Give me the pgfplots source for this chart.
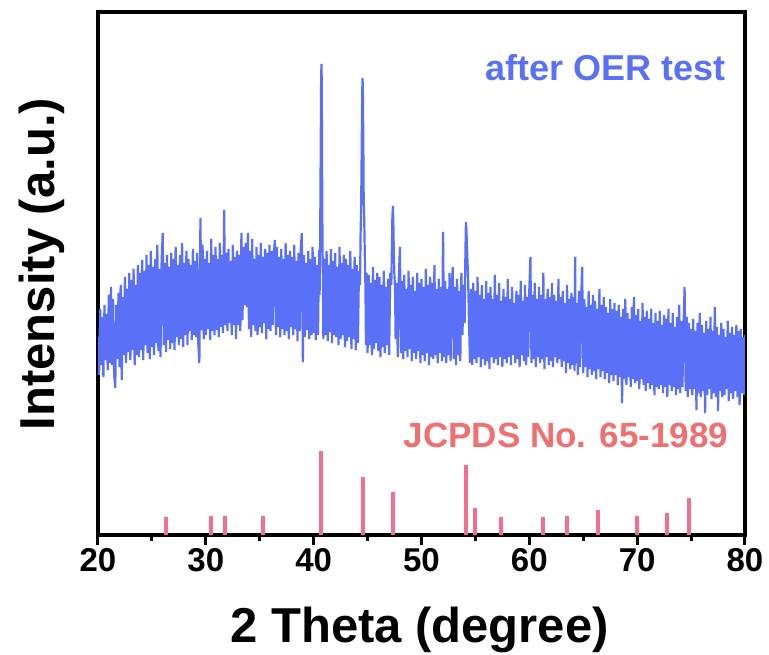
\documentclass[border=0pt]{standalone}
\usepackage{fontspec}
\setmainfont{Liberation Sans}
\usepackage{pgfplots}
\pgfplotsset{compat=1.18}
\definecolor{xrdblue}{RGB}{90,112,246}
\definecolor{stickpink}{RGB}{242,112,142}
\definecolor{refred}{RGB}{240,112,112}
\begin{document}
\begin{tikzpicture}
\begin{axis}[
  name=ax,
  scale only axis,
  width=647pt, height=523pt,
  xmin=20, xmax=80, ymin=0, ymax=523,
  xtick={20,30,...,80},
  minor x tick num=1,
  ytick=\empty,
  xtick pos=left,
  tick align=outside,
  major tick length=10pt,
  minor tick length=6pt,
  every tick/.style={black, line width=3pt},
  axis line style={black, line width=3.5pt},
  /pgf/number format/assume math mode=true,
  ticklabel style={font=\bfseries\fontsize{33}{36}\selectfont},
  label style={font=\bfseries\fontsize{49}{54}\selectfont},
  xlabel={2 Theta (degree)},
  ylabel={Intensity (a.u.)},
  xlabel style={at={(axis description cs:0.497,-0.1377)}, anchor=north, inner sep=0pt},
  ylabel style={at={(axis description cs:-0.051,0.518)}, anchor=south, inner sep=0pt},
]
\addplot[xrdblue, line width=2.2pt, line join=bevel] coordinates {
(20.0,198) (20.1,160) (20.2,226) (20.3,170) (20.4,218) (20.5,158) (20.6,230) (20.7,175) (20.8,221) (20.9,165)
(21.0,240) (21.1,172) (21.2,248) (21.3,170) (21.4,236) (21.5,160) (21.6,147) (21.7,230) (21.8,176) (21.9,242)
(22.0,168) (22.1,250) (22.2,155) (22.3,238) (22.4,180) (22.5,258) (22.6,172) (22.7,246) (22.8,183) (22.9,262)
(23.0,175) (23.1,255) (23.2,185) (23.3,266) (23.4,170) (23.5,250) (23.6,180) (23.7,270) (23.8,178) (23.9,262)
(24.0,185) (24.1,275) (24.2,175) (24.3,264) (24.4,190) (24.5,280) (24.6,182) (24.7,270) (24.8,176) (24.9,284)
(25.0,188) (25.1,268) (25.2,180) (25.3,276) (25.4,192) (25.5,290) (25.6,184) (25.7,266) (25.8,178) (25.9,274)
(26.0,302) (26.1,190) (26.2,272) (26.3,183) (26.4,280) (26.5,195) (26.6,268) (26.7,186) (26.8,282) (26.9,192)
(27.0,276) (27.1,185) (27.2,288) (27.3,198) (27.4,270) (27.5,190) (27.6,280) (27.7,196) (27.8,292) (27.9,188)
(28.0,272) (28.1,200) (28.2,284) (28.3,190) (28.4,276) (28.5,204) (28.6,270) (28.7,195) (28.8,286) (28.9,200)
(29.0,274) (29.1,198) (29.2,282) (29.3,192) (29.4,172) (29.5,317) (29.6,205) (29.7,290) (29.8,196) (29.9,276)
(30.0,200) (30.1,284) (30.2,206) (30.3,272) (30.4,195) (30.5,296) (30.6,204) (30.7,280) (30.8,200) (30.9,288)
(31.0,205) (31.1,276) (31.2,198) (31.3,292) (31.4,208) (31.5,280) (31.6,202) (31.7,325) (31.8,210) (31.9,282)
(32.0,204) (32.1,286) (32.2,212) (32.3,274) (32.4,200) (32.5,290) (32.6,210) (32.7,278) (32.8,196) (32.9,284)
(33.0,210) (33.1,280) (33.2,204) (33.3,302) (33.4,215) (33.5,288) (33.6,230) (33.7,292) (33.8,228) (33.9,302)
(34.0,206) (34.1,284) (34.2,198) (34.3,296) (34.4,210) (34.5,276) (34.6,204) (34.7,288) (34.8,200) (34.9,280)
(35.0,208) (35.1,292) (35.2,202) (35.3,278) (35.4,212) (35.5,286) (35.6,196) (35.7,282) (35.8,206) (35.9,290)
(36.0,204) (36.1,284) (36.2,210) (36.3,280) (36.4,295) (36.5,200) (36.6,288) (36.7,208) (36.8,278) (36.9,198)
(37.0,286) (37.1,206) (37.2,276) (37.3,200) (37.4,292) (37.5,204) (37.6,280) (37.7,196) (37.8,284) (37.9,208)
(38.0,278) (38.1,200) (38.2,290) (38.3,206) (38.4,274) (38.5,194) (38.6,282) (38.7,204) (38.8,286) (38.9,302)
(39.0,173) (39.1,280) (39.2,198) (39.3,272) (39.4,205) (39.5,284) (39.6,196) (39.7,276) (39.8,200) (39.9,288)
(40.0,202) (40.1,278) (40.2,195) (40.3,270) (40.4,200) (40.5,285) (40.55,240) (40.6,290) (40.65,380) (40.69,450)
(40.72,471) (40.75,455) (40.78,370) (40.82,290) (40.86,255) (40.9,196)
(41.0,276) (41.1,200) (41.2,284) (41.3,194) (41.4,270) (41.5,203) (41.6,286) (41.7,192) (41.8,274) (41.9,200)
(42.0,282) (42.1,198) (42.2,268) (42.3,190) (42.4,288) (42.5,196) (42.6,272) (42.7,200) (42.8,280) (42.9,188)
(43.0,276) (43.1,194) (43.2,270) (43.3,198) (43.4,284) (43.5,186) (43.6,266) (43.7,196) (43.8,278) (43.9,185)
(44.0,270) (44.1,192) (44.2,264) (44.3,250) (44.35,300) (44.4,325) (44.45,380) (44.5,440) (44.53,457) (44.56,448)
(44.6,400) (44.64,335) (44.68,320) (44.72,295) (44.76,270) (44.8,250) (44.85,190) (44.9,262)
(45.0,182) (45.1,260) (45.2,190) (45.3,252) (45.4,180) (45.5,268) (45.6,186) (45.7,255) (45.8,192) (45.9,262)
(46.0,184) (46.1,258) (46.2,178) (46.3,250) (46.4,188) (46.5,264) (46.6,182) (46.7,248) (46.8,190) (46.9,256)
(47.0,180) (47.1,262) (47.2,250) (47.26,290) (47.3,318) (47.35,329) (47.39,312) (47.43,285) (47.48,262)
(47.55,245) (47.6,196) (47.7,252) (47.8,178) (47.9,258)
(48.0,288) (48.1,182) (48.2,254) (48.3,176) (48.4,260) (48.5,184) (48.6,246) (48.7,178) (48.8,264) (48.9,186)
(49.0,250) (49.1,174) (49.2,258) (49.3,182) (49.4,244) (49.5,176) (49.6,262) (49.7,184) (49.8,252) (49.9,172)
(50.0,256) (50.1,180) (50.2,248) (50.3,174) (50.4,266) (50.5,182) (50.6,250) (50.7,170) (50.8,258) (50.9,178)
(51.0,252) (51.1,176) (51.2,270) (51.3,180) (51.4,246) (51.5,172) (51.6,256) (51.7,182) (51.8,248) (51.9,174)
(52.0,303) (52.1,178) (52.2,254) (52.3,172) (52.4,246) (52.5,180) (52.6,262) (52.7,174) (52.8,250) (52.9,268)
(53.0,176) (53.1,248) (53.2,170) (53.3,256) (53.4,180) (53.5,244) (53.6,174) (53.7,262) (53.8,200) (53.9,250)
(54.0,212) (54.07,280) (54.12,313) (54.17,305) (54.22,290) (54.27,272) (54.32,258) (54.4,215) (54.5,172) (54.6,246)
(54.7,170) (54.8,252) (54.9,176)
(55.0,244) (55.1,172) (55.2,258) (55.3,178) (55.4,240) (55.5,168) (55.6,250) (55.7,176) (55.8,236) (55.9,170)
(56.0,254) (56.1,174) (56.2,242) (56.3,166) (56.4,248) (56.5,178) (56.6,236) (56.7,172) (56.8,260) (56.9,176)
(57.0,240) (57.1,170) (57.2,252) (57.3,178) (57.4,234) (57.5,168) (57.6,246) (57.7,176) (57.8,238) (57.9,172)
(58.0,256) (58.1,178) (58.2,236) (58.3,170) (58.4,248) (58.5,180) (58.6,232) (58.7,172) (58.8,244) (58.9,176)
(59.0,240) (59.1,168) (59.2,254) (59.3,180) (59.4,234) (59.5,174) (59.6,250) (59.7,170) (59.8,238) (59.9,178)
(60.0,246) (60.1,278) (60.2,172) (60.3,240) (60.4,176) (60.5,252) (60.6,168) (60.7,236) (60.8,178) (60.9,248)
(61.0,172) (61.1,240) (61.2,176) (61.3,262) (61.4,166) (61.5,236) (61.6,178) (61.7,246) (61.8,170) (61.9,238)
(62.0,174) (62.1,252) (62.2,168) (62.3,240) (62.4,178) (62.5,234) (62.6,172) (62.7,256) (62.8,176) (62.9,238)
(63.0,168) (63.1,244) (63.2,174) (63.3,232) (63.4,162) (63.5,250) (63.6,172) (63.7,236) (63.8,166) (63.9,242)
(64.0,170) (64.1,238) (64.2,164) (64.25,278) (64.3,172) (64.4,232) (64.5,160) (64.6,244) (64.7,168) (64.8,234)
(64.9,268)
(65.0,162) (65.1,236) (65.2,168) (65.3,228) (65.4,158) (65.5,244) (65.6,166) (65.7,230) (65.8,160) (65.9,240)
(66.0,164) (66.1,234) (66.2,156) (66.3,226) (66.4,166) (66.5,246) (66.6,158) (66.7,230) (66.8,164) (66.9,238)
(67.0,156) (67.1,228) (67.2,162) (67.3,222) (67.4,152) (67.5,236) (67.6,160) (67.7,226) (67.8,154) (67.9,232)
(68.0,160) (68.1,224) (68.2,150) (68.3,230) (68.4,158) (68.5,218) (68.6,132) (68.7,226) (68.8,156) (68.9,236)
(69.0,150) (69.1,222) (69.2,158) (69.3,216) (69.4,148) (69.5,228) (69.6,156) (69.7,238) (69.8,152) (69.9,220)
(70.0,154) (70.1,226) (70.2,146) (70.3,214) (70.4,156) (70.5,232) (70.6,150) (70.7,218) (70.8,144) (70.9,224)
(71.0,152) (71.1,216) (71.2,146) (71.3,226) (71.4,150) (71.5,212) (71.6,140) (71.7,222) (71.8,148) (71.9,214)
(72.0,146) (72.1,224) (72.2,150) (72.3,210) (72.4,142) (72.5,220) (72.6,148) (72.7,216) (72.8,138) (72.9,226)
(73.0,150) (73.1,212) (73.2,144) (73.3,222) (73.4,148) (73.5,208) (73.6,140) (73.7,218) (73.8,146) (73.9,230)
(74.0,142) (74.1,214) (74.2,148) (74.3,208) (74.4,248) (74.5,144) (74.6,218) (74.7,138) (74.8,212) (74.9,146)
(75.0,206) (75.1,140) (75.2,216) (75.3,146) (75.4,204) (75.5,125) (75.6,212) (75.7,142) (75.8,222) (75.9,138)
(76.0,210) (76.1,144) (76.2,202) (76.3,122) (76.4,214) (76.5,140) (76.6,206) (76.7,146) (76.8,218) (76.9,136)
(77.0,204) (77.1,142) (77.2,228) (77.3,138) (77.4,208) (77.5,124) (77.6,200) (77.7,144) (77.8,212) (77.9,138)
(78.0,206) (78.1,140) (78.2,198) (78.3,146) (78.4,214) (78.5,134) (78.6,202) (78.7,142) (78.8,208) (78.9,136)
(79.0,200) (79.1,144) (79.2,210) (79.3,138) (79.4,204) (79.5,130) (79.6,206) (79.7,142) (79.8,198) (79.9,140)
(80.0,200)
};
\addplot[ycomb, stickpink, line width=4pt] coordinates {
(26.3,18) (30.45,19) (31.75,19) (35.3,19) (40.72,84) (44.55,58) (47.35,43) (54.17,70)
(54.97,27) (57.4,18) (61.3,18) (63.5,19) (66.4,25) (70.0,19) (72.75,22) (74.8,37)
};
\node[anchor=base east, text=xrdblue, font=\bfseries\fontsize{36}{40}\selectfont, inner sep=0pt] at (axis cs:78.2,454) {after OER test};
\node[anchor=base east, text=refred, font=\bfseries\fontsize{35}{40}\selectfont, inner sep=0pt] at (axis cs:78.45,87) {JCPDS No. 65-1989};
\end{axis}
\path (ax.south west) ++(-98pt,-120pt) rectangle ++(769pt,655pt);
\end{tikzpicture}
\end{document}
